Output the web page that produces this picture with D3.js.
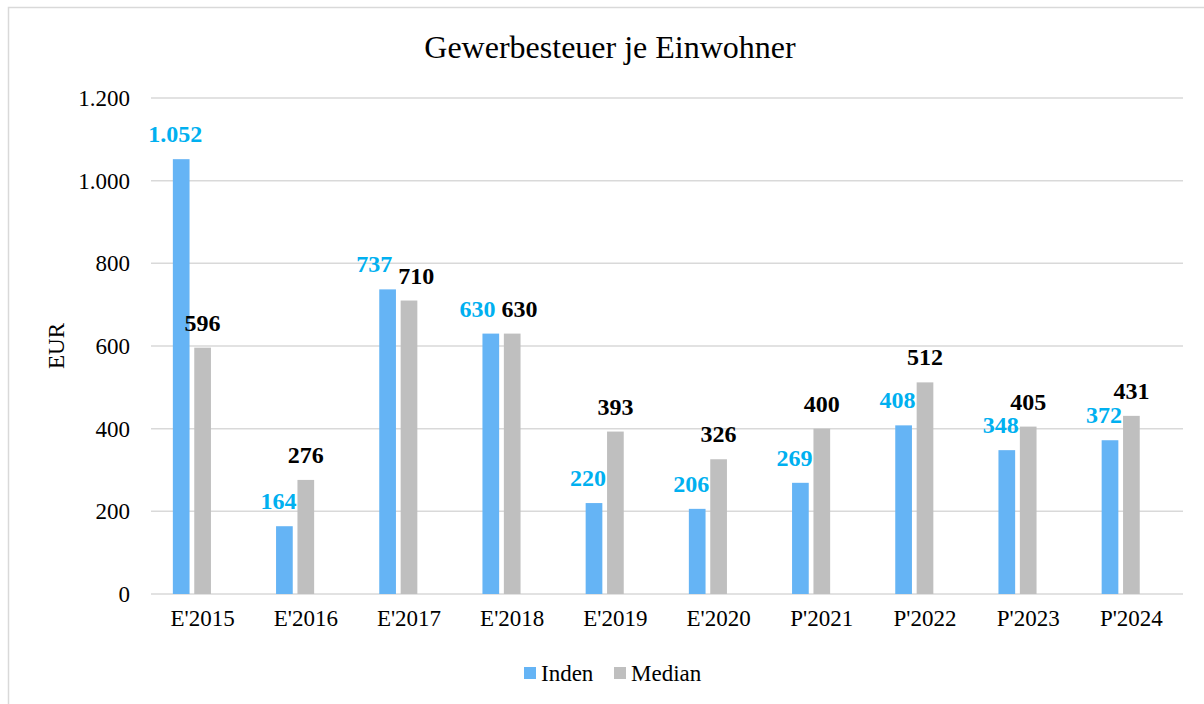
<!DOCTYPE html>
<html>
<head>
<meta charset="utf-8">
<script src="https://cdn.jsdelivr.net/npm/d3@7"></script>
<style>
  body { margin: 0; background: #fff; }
  text { font-family: "Liberation Serif", "Times New Roman", serif; }
</style>
</head>
<body>
<div id="chart"></div>
<script>
// data
var categories = ["E'2015", "E'2016", "E'2017", "E'2018", "E'2019", "E'2020", "P'2021", "P'2022", "P'2023", "P'2024"];
var inden = [1052, 164, 737, 630, 220, 206, 269, 408, 348, 372];
var median = [596, 276, 710, 630, 393, 326, 400, 512, 405, 431];
var seriesNames = ["Inden", "Median"];
var yTicks = [0, 200, 400, 600, 800, 1000, 1200];

var W = 1204, H = 704;
var margin = { top: 98, right: 21, bottom: 110, left: 151 },
    width = W - margin.left - margin.right,
    height = H - margin.top - margin.bottom;

var colors = { Inden: "#65B4F5", Median: "#BFBFBF" };
var labelColors = { Inden: "#00B0F0", Median: "#000000" };

var svg = d3.select("#chart").append("svg")
    .attr("width", W)
    .attr("height", H);

// outer chart frame
svg.append("rect")
    .attr("x", 8.5).attr("y", 7.5)
    .attr("width", W).attr("height", H)
    .attr("fill", "none")
    .attr("stroke", "#D9D9D9")
    .attr("stroke-width", 1.5);

svg.append("text")
    .attr("x", 610).attr("y", 58)
    .attr("text-anchor", "middle")
    .style("font-size", "32px")
    .text("Gewerbesteuer je Einwohner");

var g = svg.append("g")
    .attr("transform", "translate(" + margin.left + "," + margin.top + ")");

var x0 = d3.scaleBand().domain(categories).range([0, width]);
// Excel leaves room for a third (empty) series slot
var x1 = d3.scaleBand().domain(["Inden", "Median", "_"])
    .range([19.5, x0.bandwidth() - 19.5])
    .paddingInner(0.22).paddingOuter(0.11);

var y = d3.scaleLinear().domain([0, 1200]).range([height, 0]);

var fmt = d3.formatLocale({ decimal: ",", thousands: ".", grouping: [3], currency: ["", "€"] }).format(",d");

// gridlines
g.selectAll(".grid").data(yTicks).enter().append("line")
    .attr("x1", 0).attr("x2", width)
    .attr("y1", function (d) { return y(d); })
    .attr("y2", function (d) { return y(d); })
    .attr("stroke", "#D9D9D9")
    .attr("stroke-width", 1.5);

// y axis labels
var yAxis = g.append("g")
    .call(d3.axisLeft(y).tickValues(yTicks).tickFormat(fmt).tickSize(0).tickPadding(21));
yAxis.select(".domain").remove();
yAxis.selectAll("text")
    .style("font-size", "23px")
    .attr("fill", "#000")
    .style("font-family", "Liberation Serif, serif");

// x axis labels
var xAxis = g.append("g")
    .attr("transform", "translate(0," + height + ")")
    .call(d3.axisBottom(x0).tickSize(0).tickPadding(16));
xAxis.select(".domain").remove();
xAxis.selectAll("text")
    .style("font-size", "23px")
    .attr("fill", "#000")
    .style("font-family", "Liberation Serif, serif");

svg.append("text")
    .attr("transform", "translate(64,346) rotate(-90)")
    .attr("text-anchor", "middle")
    .style("font-size", "23px")
    .text("EUR");

var rows = categories.map(function (c, i) {
    return { cat: c, Inden: inden[i], Median: median[i] };
});

var groups = g.selectAll(".grp").data(rows).enter().append("g")
    .attr("transform", function (d) { return "translate(" + x0(d.cat) + ",0)"; });

groups.selectAll("rect")
    .data(function (d) { return seriesNames.map(function (k) { return { key: k, value: d[k] }; }); })
    .enter().append("rect")
    .attr("x", function (d) { return x1(d.key); })
    .attr("y", function (d) { return y(d.value); })
    .attr("width", x1.bandwidth())
    .attr("height", function (d) { return height - y(d.value); })
    .attr("fill", function (d) { return colors[d.key]; });

// value labels, blue nudged left, then pushed apart when a pair collides
groups.each(function (d) {
    var gg = d3.select(this);
    var lab = seriesNames.map(function (k) {
        var t = gg.append("text")
            .attr("text-anchor", "middle")
            .attr("fill", labelColors[k])
            .style("font-size", "24px")
            .style("font-weight", "bold")
            .attr("y", y(d[k]) - 17)
            .text(fmt(d[k]));
        return { t: t, cx: x1(k) + x1.bandwidth() / 2 + (k === "Inden" ? -6 : 0), y: y(d[k]) - 17, w: t.node().getComputedTextLength() };
    });
    var a = lab[0], b = lab[1];
    if (Math.abs(a.y - b.y) < 22) {
        var overlap = (a.cx + a.w / 2 + 6) - (b.cx - b.w / 2);
        if (overlap > 0) { a.cx -= overlap / 2; b.cx += overlap / 2; }
    }
    lab.forEach(function (l) { l.t.attr("x", l.cx); });
});

// legend
var legend = svg.append("g");
var legX = [524, 614];
seriesNames.forEach(function (k, i) {
    legend.append("rect")
        .attr("x", legX[i]).attr("y", 667)
        .attr("width", 12).attr("height", 12)
        .attr("fill", colors[k]);
    legend.append("text")
        .attr("x", legX[i] + 17).attr("y", 681)
        .style("font-size", "23px")
        .text(k);
});
</script>
</body>
</html>
